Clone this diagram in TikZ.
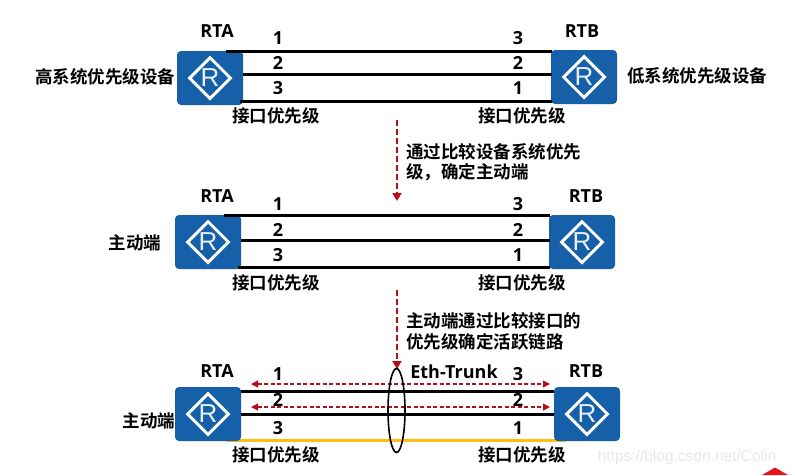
\documentclass[tikz,border=0pt]{standalone}
\usepackage{fontspec}
\setmainfont{Noto Sans CJK SC}[BoldFont={* Bold}]
\newfontfamily\latinb{Open Sans}[BoldFont={* Bold}]
\newfontfamily\wmfont{Liberation Sans}
\usetikzlibrary{shapes.geometric,arrows.meta}
\definecolor{routerblue}{HTML}{1560A8}
\definecolor{darkred}{HTML}{B70F17}
\definecolor{linkyellow}{HTML}{FFC014}
\definecolor{cornerred}{HTML}{E8141C}
\tikzset{
  routerbox/.style={fill=routerblue,rounded corners=4pt,minimum width=66pt,minimum height=54pt,inner sep=0pt,text=white,draw=none},
  routerdia/.style={diamond,draw=white,line width=3pt,minimum width=42pt,minimum height=42pt,inner sep=0pt,text=white!90!routerblue,font=\wmfont\fontsize{26}{26}\selectfont,aspect=1},
  cn/.style={font=\bfseries\fontsize{17.5}{20}\selectfont,text=black,inner sep=0pt},
  la/.style={font=\latinb\bfseries\fontsize{18}{20}\selectfont,text=black,inner sep=0pt},
  link/.style={line width=3pt,black},
  sig/.style={darkred,dash pattern=on 6pt off 3pt,line width=2.7pt,-{Triangle[length=8pt,width=9pt]}},
  sigh/.style={darkred,dash pattern=on 4pt off 2.5pt,line width=1.3pt,{Triangle[length=7pt,width=7pt]}-{Triangle[length=7pt,width=7pt]}},
}
\begin{document}
\begin{tikzpicture}[x=1pt,y=-1pt]
\useasboundingbox (0,0) rectangle (795,475);
% panel 1
\node[routerbox] (a1) at (210,78) {}; \node[routerdia] (da1) at (a1) {R};
\node[routerbox] (b1) at (584,77) {}; \node[routerdia] (db1) at (b1) {R};
\coordinate (a1t) at (226,51); \coordinate (b1t) at (552,51);
\coordinate (a1m) at (243,74); \coordinate (b1m) at (552,74);
\coordinate (a1b) at (240,101); \coordinate (b1b) at (552,101);
\draw[link] (a1t) -- (b1t); \draw[link] (a1m) -- (b1m); \draw[link] (a1b) -- (b1b);
\node[la] (ta1) at (217,31) {RTA}; \node[la] (tb1) at (582,31) {RTB};
\node[la] (n11) at (278,38) {1}; \node[la] (n12) at (278,63) {2}; \node[la] (n13) at (278,88) {3};
\node[la] (m11) at (518,38) {3}; \node[la] (m12) at (518,63) {2}; \node[la] (m13) at (518,88) {1};
\node[cn] (p11) at (276,116) {接口优先级}; \node[cn] (p12) at (522,116) {接口优先级};
\node[cn] (hi) at (105,77) {高系统优先级设备}; \node[cn] (lo) at (697,76) {低系统优先级设备};
% step 1
\coordinate (s1a) at (397,120); \coordinate (s1b) at (397,201);
\draw[sig] (s1a) -- (s1b);
\node[cn,anchor=west] (c1) at (406,152) {通过比较设备系统优先};
\node[cn,anchor=west] (c2) at (406,172) {级，确定主动端};
% panel 2
\node[routerbox] (a2) at (208,242) {}; \node[routerdia] (da2) at (a2) {R};
\node[routerbox] (b2) at (582,242) {}; \node[routerdia] (db2) at (b2) {R};
\coordinate (a2t) at (224,215); \coordinate (b2t) at (550,215);
\coordinate (a2m) at (241,240); \coordinate (b2m) at (550,240);
\coordinate (a2b) at (238,267); \coordinate (b2b) at (550,267);
\draw[link] (a2t) -- (b2t); \draw[link] (a2m) -- (b2m); \draw[link] (a2b) -- (b2b);
\node[la] (ta2) at (217,196) {RTA}; \node[la] (tb2) at (586,196) {RTB};
\node[la] (n21) at (278,204) {1}; \node[la] (n22) at (278,230) {2}; \node[la] (n23) at (278,255) {3};
\node[la] (m21) at (518,204) {3}; \node[la] (m22) at (518,230) {2}; \node[la] (m23) at (518,255) {1};
\node[cn] (p21) at (276,283) {接口优先级}; \node[cn] (p22) at (522,283) {接口优先级};
\node[cn] (act2) at (135,243) {主动端};
% step 2
\coordinate (s2a) at (397,290); \coordinate (s2b) at (397,369);
\draw[sig] (s2a) -- (s2b);
\node[cn,anchor=west] (c3) at (406,321) {主动端通过比较接口的};
\node[cn,anchor=west] (c4) at (406,342) {优先级确定活跃链路};
% panel 3
\coordinate (a3b) at (226,440); \coordinate (b3b) at (566,440);
\draw[linkyellow,line width=3pt] (a3b) -- (b3b);
\node[routerbox] (a3) at (208,414) {}; \node[routerdia] (da3) at (a3) {R};
\node[routerbox] (b3) at (587,414) {}; \node[routerdia] (db3) at (b3) {R};
\coordinate (a3t) at (241,391); \coordinate (b3t) at (554,391);
\coordinate (a3m) at (241,414); \coordinate (b3m) at (554,414);
\draw[link] (a3t) -- (b3t); \draw[link] (a3m) -- (b3m);
\coordinate (h1a) at (251,384); \coordinate (h1b) at (550,384);
\coordinate (h2a) at (251,407); \coordinate (h2b) at (550,407);
\draw[sigh] (h1a) -- (h1b); \draw[sigh] (h2a) -- (h2b);
\node[draw=black,line width=1.6pt,ellipse,minimum width=17pt,minimum height=84pt,inner sep=0pt] (ell) at (396.5,410.5) {};
\node[la] (ta3) at (217,371) {RTA}; \node[la] (tb3) at (586,371) {RTB};
\node[la] (n31) at (278,374) {1}; \node[la] (n32) at (278,400) {2}; \node[la] (n33) at (278,428) {3};
\node[la] (m31) at (518,374) {3}; \node[la] (m32) at (518,400) {2}; \node[la] (m33) at (518,428) {1};
\node[la] (eth) at (454,372) {Eth-Trunk};
\node[cn] (p31) at (276,455) {接口优先级}; \node[cn] (p32) at (522,455) {接口优先级};
\node[cn] (act3) at (149,421) {主动端};
% watermark and corner mark
\node[font=\wmfont\fontsize{15.5}{18}\selectfont,text=black!9,inner sep=0pt] (wm) at (687,457) {https://blog.csdn.net/Colin};
\fill[cornerred] (762,475) -- (775,467.5) -- (788,475) -- cycle;
\end{tikzpicture}
\end{document}
